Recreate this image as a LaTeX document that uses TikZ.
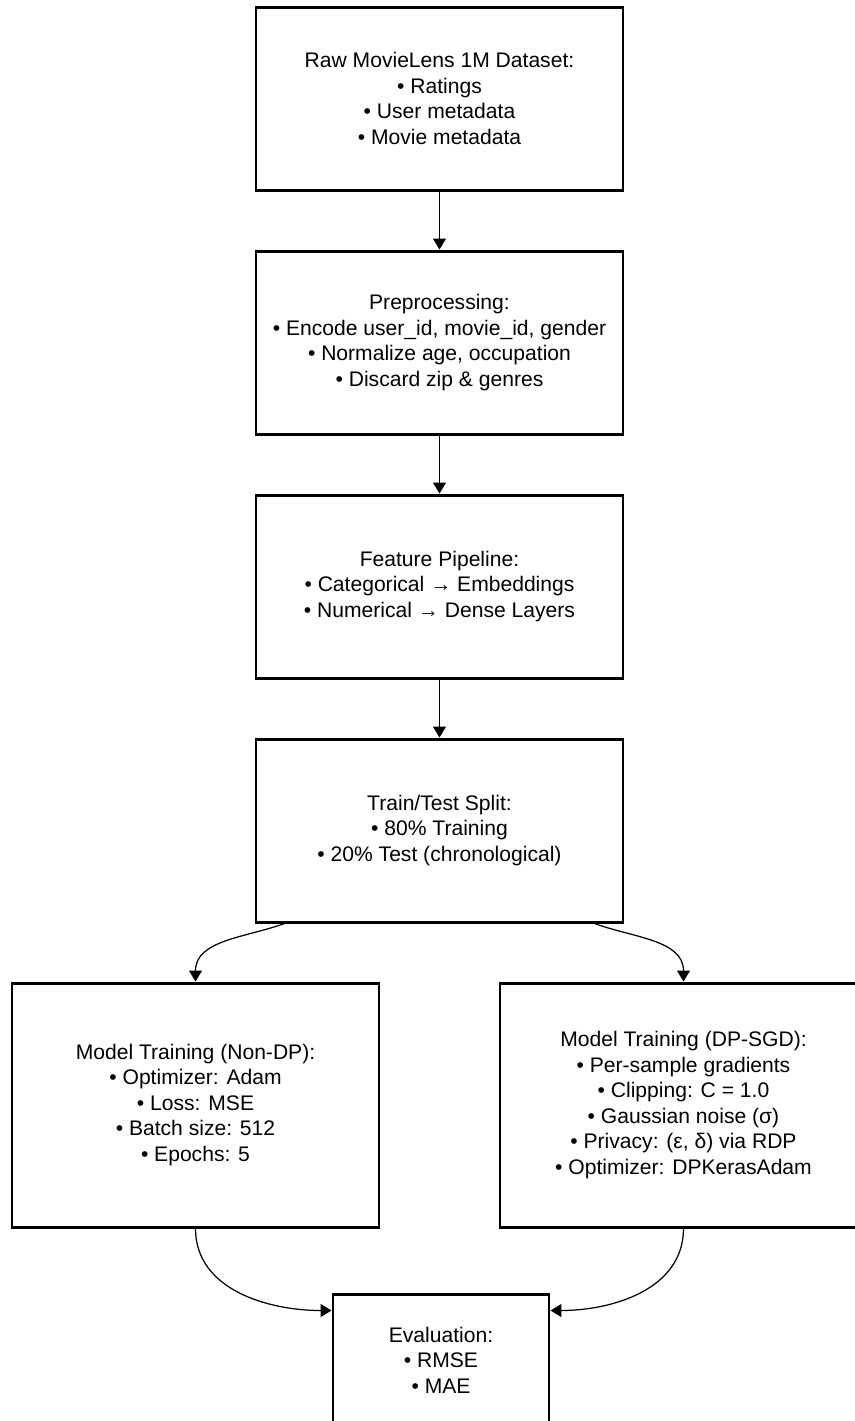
\documentclass[tikz,border=0pt]{standalone}
\usepackage{fontspec}
\setmainfont{Liberation Sans}
\usetikzlibrary{arrows.meta}

\begin{document}
\begin{tikzpicture}[
  stage/.style={draw, line width=1.7pt, align=center, inner sep=0pt,
    minimum width=7.34cm, minimum height=3.66cm,
    font=\fontsize{12}{14.5}\selectfont},
  flow/.style={line width=0.7pt, -{Triangle[length=0.22cm, width=0.26cm]}}]

  \useasboundingbox (0,0) rectangle (17.1,-28.42);

  % pipeline boxes
  \node[stage] (raw) at (8.79,-1.97) {Raw MovieLens 1M Dataset:\\ • Ratings\\ • User metadata\\ • Movie metadata};
  \node[stage] (prep) at (8.79,-6.85) {Preprocessing:\\ • Encode user\_id, movie\_id, gender\\ • Normalize age, occupation\\ • Discard zip \& genres};
  \node[stage] (feat) at (8.79,-11.73) {Feature Pipeline:\\ • Categorical → Embeddings\\ • Numerical → Dense Layers};
  \node[stage] (split) at (8.79,-16.61) {Train/Test Split:\\ • 80\% Training\\ • 20\% Test (chronological)};

  % the two training runs
  \node[stage, minimum height=4.88cm] (nondp) at (3.91,-22.10) {Model Training (Non-DP):\\ • Optimizer: Adam\\ • Loss: MSE\\ • Batch size: 512\\ • Epochs: 5};
  \node[stage, minimum height=4.88cm] (dpsgd) at (13.67,-22.10) {Model Training (DP-SGD):\\ • Per-sample gradients\\ • Clipping: C = 1.0\\ • Gaussian noise (σ)\\ • Privacy: (ε, δ) via RDP\\ • Optimizer: DPKerasAdam};

  % evaluation
  \node[stage, minimum width=4.32cm, minimum height=2.64cm] (eval) at (8.82,-27.20) {Evaluation:\\ • RMSE\\ • MAE};

  % arrows
  \draw[flow] (raw) to (prep);
  \draw[flow] (prep) to (feat);
  \draw[flow] (feat) to (split);
  \draw[flow] ([xshift=0.6cm]split.south west) to[out=200, in=90] (nondp.north);
  \draw[flow] ([xshift=-0.6cm]split.south east) to[out=-20, in=90] (dpsgd.north);
  \draw[flow] (nondp.south) to[out=-90, in=180] ([yshift=-0.36cm]eval.north west);
  \draw[flow] (dpsgd.south) to[out=-90, in=0] ([yshift=-0.36cm]eval.north east);

\end{tikzpicture}
\end{document}
